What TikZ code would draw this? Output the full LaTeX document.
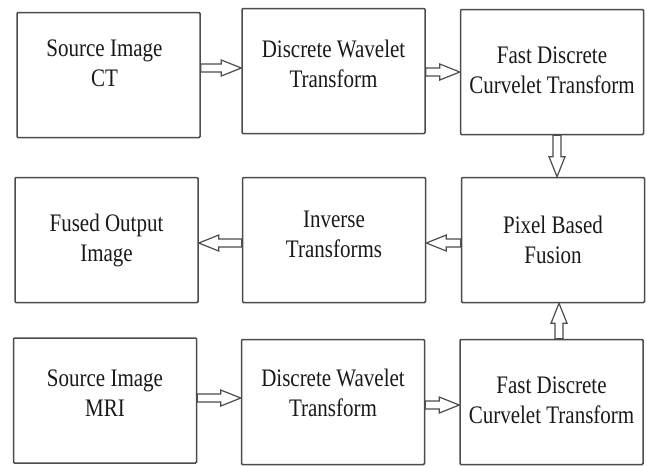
\documentclass[tikz,border=0pt]{standalone}
\usepackage{graphicx}
\usepackage{fontspec}
\setmainfont{Liberation Serif}
\usetikzlibrary{calc}
\newcommand\bsw{4}
\newcommand\bhw{8}
\newcommand\bhl{20}
\newcommand\barrow[2]{\draw[blockarrow] let \p1=(#1), \p2=(#2),
  \n1={veclen(\x2-\x1,\y2-\y1)}, \n2={(\x2-\x1)/\n1}, \n3={(\y2-\y1)/\n1} in
  ({\x1-(\n3)*\bsw},{\y1+(\n2)*\bsw})
  -- ({\x2-(\n2)*\bhl-(\n3)*\bsw},{\y2-(\n3)*\bhl+(\n2)*\bsw})
  -- ({\x2-(\n2)*\bhl-(\n3)*\bhw},{\y2-(\n3)*\bhl+(\n2)*\bhw})
  -- (\x2,\y2)
  -- ({\x2-(\n2)*\bhl+(\n3)*\bhw},{\y2-(\n3)*\bhl-(\n2)*\bhw})
  -- ({\x2-(\n2)*\bhl+(\n3)*\bsw},{\y2-(\n3)*\bhl-(\n2)*\bsw})
  -- ({\x1+(\n3)*\bsw},{\y1-(\n2)*\bsw}) -- cycle;}
\newcommand\twoline[2]{\scalebox{1}[1.2]{\begin{tabular}{@{}c@{}}#1\\#2\end{tabular}}}
\begin{document}
\begin{tikzpicture}[x=1pt,y=-1pt,
  box/.style={draw=black!70, line width=1.5pt, rounded corners=1pt, minimum width=183pt, minimum height=125pt, inner sep=0pt},
  lbl/.style={inner sep=0pt, text=black!90, font=\fontsize{21}{25}\selectfont},
  blockarrow/.style={draw=black!70, line width=1.2pt, fill=white, line join=miter}]
\useasboundingbox (0,0) rectangle (647,466);
\node[box] (A) at (108.5,75) {};
\node[box] (B) at (333.5,71) {};
\node[box] (C) at (552,72) {};
\node[box] (D) at (106.5,240) {};
\node[box] (E) at (334,240) {};
\node[box] (F) at (553,240) {};
\node[box] (G) at (105,400.5) {};
\node[box] (H) at (333,402) {};
\node[box] (I) at (551.5,402) {};
\node[lbl] (At) at ([xshift=-4pt,yshift=10pt]A) {\twoline{Source Image}{CT}};
\node[lbl] (Bt) at ([yshift=5pt]B) {\twoline{Discrete Wavelet}{Transform}};
\node[lbl] (Ct) at (C) {\twoline{Fast Discrete}{Curvelet Transform}};
\node[lbl] (Dt) at (D) {\twoline{Fused Output}{Image}};
\node[lbl] (Et) at ([yshift=4pt]E) {\twoline{Inverse}{Transforms}};
\node[lbl] (Ft) at ([yshift=-2pt]F) {\twoline{Pixel Based}{Fusion}};
\node[lbl] (Gt) at ([yshift=5pt]G) {\twoline{Source Image}{MRI}};
\node[lbl] (Ht) at ([yshift=7pt]H) {\twoline{Discrete Wavelet}{Transform}};
\node[lbl] (It) at (I) {\twoline{Fast Discrete}{Curvelet Transform}};
\coordinate (ab) at ([yshift=7pt]A.east);
\coordinate (bc) at ([yshift=-1pt]B.east);
\coordinate (cf) at ([xshift=5pt]C.south);
\coordinate (fe) at ([yshift=-3pt]F.west);
\coordinate (ed) at ([yshift=-3pt]E.west);
\coordinate (gh) at ([yshift=2.5pt]G.east);
\coordinate (hi) at ([yshift=-3pt]H.east);
\coordinate (if) at ([xshift=7.5pt]I.north);
\barrow{ab}{ab -| B.west}
\barrow{bc}{bc -| C.west}
\barrow{cf}{cf |- F.north}
\barrow{fe}{fe -| E.east}
\barrow{ed}{ed -| D.east}
\barrow{gh}{gh -| H.west}
\barrow{hi}{hi -| I.west}
\barrow{if}{if |- F.south}
\end{tikzpicture}
\end{document}
